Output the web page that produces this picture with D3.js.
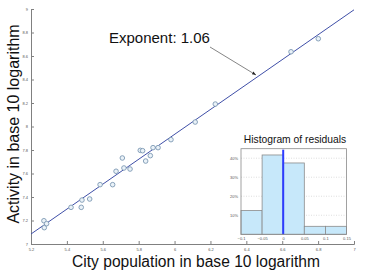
<!DOCTYPE html>
<html><head><meta charset="utf-8">
<script src="https://cdn.jsdelivr.net/npm/d3@7"></script>
<style>body{margin:0;background:#fff}svg{display:block}text{font-family:"Liberation Sans",Arial,sans-serif}</style>
</head><body><svg id="c" width="374" height="270"></svg>
<script>
const popX = [5.272,5.274,5.287,5.423,5.484,5.480,5.527,5.585,5.655,5.674,5.709,5.718,5.752,5.809,5.822,5.839,5.865,5.880,5.908,5.980,6.115,6.227,6.649,6.801];
const actY = [7.198,7.139,7.173,7.312,7.374,7.312,7.383,7.505,7.505,7.619,7.732,7.647,7.638,7.797,7.794,7.706,7.752,7.820,7.820,7.888,8.038,8.191,8.636,8.747];
const fitSlope = 1.06;
const fitIntercept = 7.085 - 1.06*5.2;
const xTicks = [5.2,5.4,5.6,5.8,6,6.2,6.4,6.6,6.8,7];
const yTicks = [7,7.2,7.4,7.6,7.8,8,8.2,8.4,8.6,8.8,9];
const binEdges = [-0.1,-0.05,0,0.05,0.1,0.15];
const binShares = [0.125,0.417,0.375,0.042,0.042];
const histYTicks = [0.1,0.2,0.3,0.4];

const svg = d3.select("#c");
const x = d3.scaleLinear().domain([5.2,7]).range([31,354]);
const y = d3.scaleLinear().domain([7,9]).range([244,9]);
const axisCol = "#808080";

const gx = svg.append("g").attr("transform","translate(0,244)")
  .call(d3.axisBottom(x).tickValues(xTicks).tickSize(-3).tickPadding(4).tickFormat(d3.format("")));
const gy = svg.append("g").attr("transform","translate(31,0)")
  .call(d3.axisLeft(y).tickValues(yTicks).tickSize(-3).tickPadding(3).tickFormat(d3.format("")));
[gx,gy].forEach(g=>{
  g.select(".domain").attr("stroke",axisCol);
  g.selectAll(".tick line").attr("stroke",axisCol);
  g.selectAll(".tick text").attr("fill","#555").style("font-size","4px");
});

svg.append("line")
  .attr("x1",x(5.2)).attr("y1",y(fitIntercept+fitSlope*5.2))
  .attr("x2",x(7)).attr("y2",y(fitIntercept+fitSlope*7))
  .attr("stroke","#3f4fa8").attr("stroke-width",1);

svg.append("g").selectAll("circle").data(popX).join("circle")
  .attr("cx",(d)=>x(d)).attr("cy",(d,i)=>y(actY[i])).attr("r",2.3)
  .attr("fill","#eaf2f8").attr("stroke","#7d98b3").attr("stroke-width",0.9);

svg.append("defs").append("marker").attr("id","ah").attr("viewBox","0 0 10 10")
  .attr("refX",10).attr("refY",5).attr("markerWidth",5).attr("markerHeight",5).attr("orient","auto")
  .append("path").attr("d","M0,1L10,5L0,9z").attr("fill","#222");
svg.append("line").attr("x1",210).attr("y1",47).attr("x2",256).attr("y2",75)
  .attr("stroke","#666").attr("stroke-width",0.8).attr("marker-end","url(#ah)");
svg.append("text").attr("x",109).attr("y",43).style("font-size","15px").attr("fill","#111").text("Exponent: 1.06");

svg.append("text").attr("x",196).attr("y",267).attr("text-anchor","middle").style("font-size","15.6px").attr("fill","#111")
  .text("City population in base 10 logarithm");
svg.append("text").attr("transform","translate(19,124) rotate(-90)").attr("text-anchor","middle").style("font-size","16px").attr("fill","#111")
  .text("Activity in base 10 logarithm");

const hx = d3.scaleLinear().domain([-0.1,0.15]).range([241,346.5]);
const hy = d3.scaleLinear().domain([0,0.45]).range([234.3,148.7]);
const h = svg.append("g");
h.append("rect").attr("x",241).attr("y",148.7).attr("width",105.5).attr("height",85.6).attr("fill","#fff");
h.selectAll("line.grid").data(histYTicks).join("line").attr("class","grid")
  .attr("x1",241).attr("x2",346.5).attr("y1",d=>hy(d)).attr("y2",d=>hy(d))
  .attr("stroke","#c8c8c8").attr("stroke-width",0.6).attr("stroke-dasharray","1,1.5");
h.selectAll("rect.bar").data(binShares).join("rect").attr("class","bar")
  .attr("x",(d,i)=>hx(binEdges[i])).attr("width",(d,i)=>hx(binEdges[i+1])-hx(binEdges[i]))
  .attr("y",d=>hy(d)).attr("height",d=>hy(0)-hy(d))
  .attr("fill","#c7e8fa").attr("stroke","#8a8a8a").attr("stroke-width",0.8);
h.append("line").attr("x1",hx(0)).attr("x2",hx(0)).attr("y1",hy(0.445)).attr("y2",hy(0))
  .attr("stroke","#2d3cff").attr("stroke-width",2);
h.append("rect").attr("x",241).attr("y",148.7).attr("width",105.5).attr("height",85.6)
  .attr("fill","none").attr("stroke","#8a8a8a").attr("stroke-width",0.8);
const hax = h.append("g").attr("transform","translate(0,234.3)")
  .call(d3.axisBottom(hx).tickValues(binEdges).tickSize(0).tickPadding(3).tickFormat(d3.format("")));
const hay = h.append("g").attr("transform","translate(241,0)")
  .call(d3.axisLeft(hy).tickValues(histYTicks).tickSize(0).tickPadding(3).tickFormat(d3.format(".0%")));
[hax,hay].forEach(g=>{
  g.select(".domain").remove();
  g.selectAll(".tick text").attr("fill","#555").style("font-size","4px");
});
h.append("text").attr("x",295).attr("y",143).attr("text-anchor","middle").style("font-size","10.3px").attr("fill","#111")
  .text("Histogram of residuals");
</script></body></html>
